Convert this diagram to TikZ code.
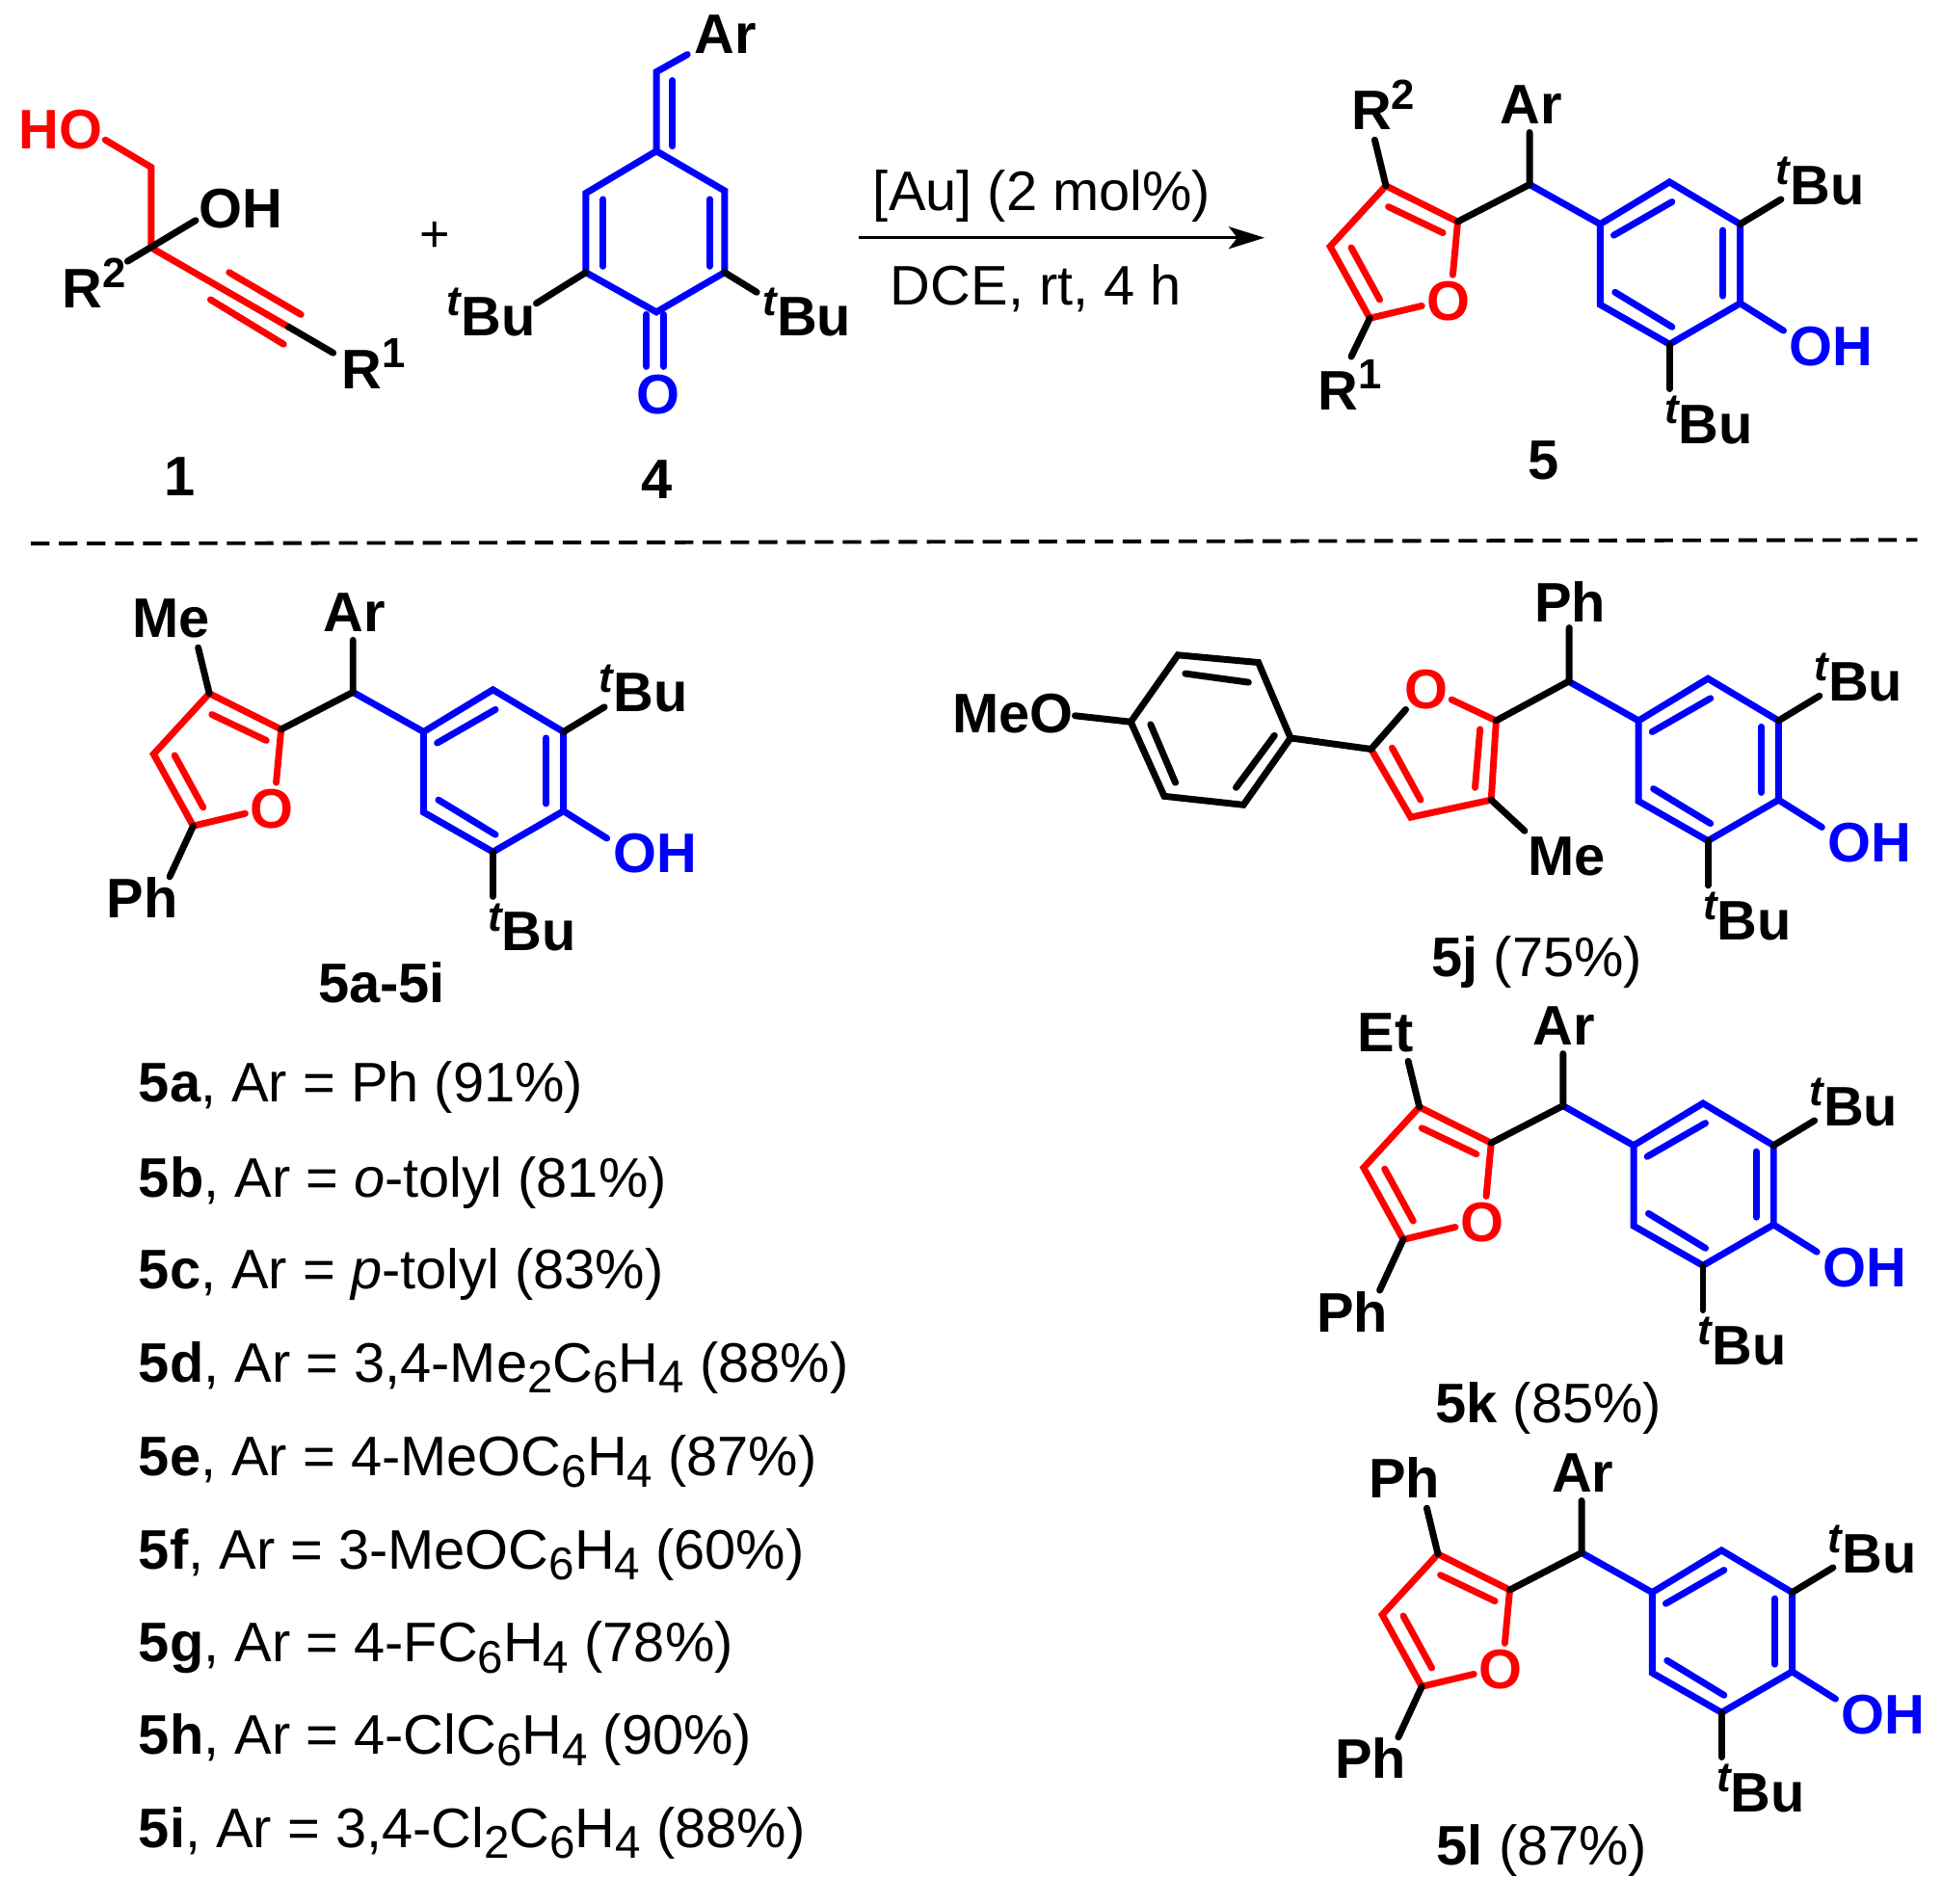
\documentclass[tikz,border=0pt]{standalone}
\usepackage{fontspec}
\setmainfont{Liberation Sans}
\usetikzlibrary{arrows.meta}
\definecolor{rd}{RGB}{255,0,0}
\definecolor{bl}{RGB}{0,0,255}
\newcommand\tBu{\raisebox{16pt}{\fontsize{34}{34}\selectfont\itshape t}Bu}
\newcommand\supr[1]{\raisebox{17pt}{\fontsize{34}{34}\selectfont #1}}
\newcommand\subs[1]{\raisebox{-9pt}{\fontsize{37}{37}\selectfont #1}}
\tikzset{
  bond/.style={line width=5.4pt,line cap=round,line join=miter},
  redb/.style={bond,rd},
  blueb/.style={bond,bl},
  blackb/.style={bond,black},
  lab/.style={anchor=base west,inner sep=0pt,outer sep=0pt,font=\bfseries\fontsize{45}{54}\selectfont},
  txt/.style={anchor=base west,inner sep=0pt,outer sep=0pt,font=\fontsize{45}{54}\selectfont},
  num/.style={anchor=base,inner sep=0pt,outer sep=0pt,font=\bfseries\fontsize{45}{54}\selectfont},
}
% phenol ring with tBu groups and OH, placed by template offsets
\newcommand\phenol[3]{%
\begin{scope}[shift={(#2,#3)},name prefix=#1-]
  \coordinate (r1) at (1292,181); \coordinate (r2) at (1348,147);
  \coordinate (r3) at (1405,181); \coordinate (r4) at (1405,245);
  \coordinate (r5) at (1348,278); \coordinate (r6) at (1292,246);
  \coordinate (ch) at (1235,149);
  \coordinate (bt) at (1438,161); \coordinate (bo) at (1440,267);
  \coordinate (bb) at (1348,314);
  \coordinate (i1a) at (1303,190); \coordinate (i1b) at (1350,163);
  \coordinate (i2a) at (1391,186); \coordinate (i2b) at (1391,239);
  \coordinate (i3a) at (1304,236); \coordinate (i3b) at (1350,264);
  \draw[blueb] (r1) -- (r2) -- (r3) -- (r4) -- (r5) -- (r6) -- cycle;
  \draw[blueb] (ch) -- (r1);
  \draw[blueb] (r4) -- (bo);
  \draw[blueb] (i1a) -- (i1b);
  \draw[blueb] (i2a) -- (i2b);
  \draw[blueb] (i3a) -- (i3b);
  \draw[blackb] (r3) -- (bt);
  \draw[blackb] (r5) -- (bb);
  \node[lab] (ltb) at (1434,165) {\tBu};
  \node[lab,bl] (loh) at (1445,295) {OH};
  \node[lab] (lbb) at (1344,358) {\tBu};
\end{scope}}
% furan-type product: name, dx, dy, R2 text, R2 x, R1 text, R1 x, R1 baseline, R1 bond end
\newcommand\furanmol[9]{%
\phenol{#1}{#2}{#3}%
\begin{scope}[shift={(#2,#3)},name prefix=#1-]
  \coordinate (f3) at (1119,150); \coordinate (f2) at (1177,179);
  \coordinate (f4) at (1074,199); \coordinate (f5) at (1106,257);
  \coordinate (fo2) at (1173,222); \coordinate (fo5) at (1148,247);
  \coordinate (ar) at (1235,107); \coordinate (br2) at (1110,113);
  \coordinate (br1) at #9;
  \coordinate (j1a) at (1121,167); \coordinate (j1b) at (1165,188);
  \coordinate (j2a) at (1091,200); \coordinate (j2b) at (1114,242);
  \draw[redb] (fo2) -- (f2) -- (f3) -- (f4) -- (f5) -- (fo5);
  \draw[redb] (j1a) -- (j1b);
  \draw[redb] (j2a) -- (j2b);
  \draw[blackb] (br2) -- (f3);
  \draw[blackb] (br1) -- (f5);
  \draw[blackb] (f2) -- (ch) -- (ar);
  \node[lab,rd] (lo) at (1152,259) {O};
  \node[lab] (lar) at (1211,100) {Ar};
  \node[lab] (lr2) at (#5,105) {#4};
  \node[lab] (lr1) at (#7,#8) {#6};
\end{scope}}
\begin{document}
\begin{tikzpicture}[x=1pt,y=-1pt]
\useasboundingbox (0,0) rectangle (1568,1537);
% --- compound 1
\coordinate (a1) at (85,113); \coordinate (a2) at (122,135); \coordinate (a3) at (122,200);
\coordinate (a4) at (158,178); \coordinate (a5) at (103,211); \coordinate (a6) at (233,264);
\coordinate (a7) at (269,285); \coordinate (a8) at (185,220); \coordinate (a9) at (243,254);
\coordinate (a10) at (170,242); \coordinate (a11) at (229,278);
\draw[redb] (a1) -- (a2) -- (a3) -- (a6);
\draw[redb] (a8) -- (a9);
\draw[redb] (a10) -- (a11);
\draw[blackb] (a5) -- (a4);
\draw[blackb] (a6) -- (a7);
\node[lab,rd] (ho) at (15,120) {HO};
\node[lab] (oh1) at (161,184) {OH};
\node[lab] (r21) at (50,249) {R\supr{2}};
\node[lab] (r11) at (276,314) {R\supr{1}};
\node[num] (n1) at (145,400) {1};
\node[txt,anchor=center,font=\fontsize{42}{50}\selectfont] (plus) at (351,191) {+};
% --- compound 4
\coordinate (b1) at (530,58); \coordinate (b0) at (555,44); \coordinate (b2) at (530,122);
\coordinate (b3) at (473,156); \coordinate (b4) at (473,220); \coordinate (b5) at (530,252);
\coordinate (b6) at (585,220); \coordinate (b7) at (585,154);
\coordinate (b8) at (543,65); \coordinate (b9) at (543,118);
\coordinate (b10) at (487,161); \coordinate (b11) at (487,215);
\coordinate (b12) at (573,161); \coordinate (b13) at (573,215);
\coordinate (b14) at (522,254); \coordinate (b15) at (522,296);
\coordinate (b16) at (536,254); \coordinate (b17) at (536,296);
\coordinate (b18) at (433,245); \coordinate (b19) at (611,236);
\draw[blueb] (b2) -- (b3) -- (b4) -- (b5) -- (b6) -- (b7) -- cycle;
\draw[blueb] (b0) -- (b1) -- (b2);
\draw[blueb] (b8) -- (b9);
\draw[blueb] (b10) -- (b11);
\draw[blueb] (b12) -- (b13);
\draw[blueb] (b14) -- (b15);
\draw[blueb] (b16) -- (b17);
\draw[blackb] (b4) -- (b18);
\draw[blackb] (b6) -- (b19);
\node[lab] (ar4) at (561,43) {Ar};
\node[lab,bl] (o4) at (514,334) {O};
\node[lab] (tb4a) at (361,271) {\tBu};
\node[lab] (tb4b) at (616,271) {\tBu};
\node[num] (n4) at (530,403) {4};
% --- arrow
\coordinate (arrL) at (693,192); \coordinate (arrR) at (1021,192);
\draw[line width=2pt,-{Stealth[length=29pt,width=18pt,inset=7pt]}] (arrL) -- (arrR);
\node[txt] (au) at (705,170) {[Au] (2 mol\%)};
\node[txt] (dce) at (719,246) {DCE, rt, 4 h};
% --- compound 5
\furanmol{m5}{0}{0}{R\supr{2}}{1091}{R\supr{1}}{1064}{331}{(1091,288)}
\node[num] (n5) at (1246,387) {5};
% --- dashed separator
\coordinate (dl) at (25,439); \coordinate (dr) at (1548,436);
\draw[line width=3pt,dash pattern=on 15pt off 7.6pt] (dl) -- (dr);
% --- 5a-5i
\furanmol{ma}{-950}{410}{Me}{1057}{Ph}{1036}{331}{(1087,298)}
\node[num,anchor=base west] (nai) at (257,810) {5a-5i};
% --- list
\node[txt] (l1) at (112,890) {\textbf{5a}, Ar = Ph (91\%)};
\node[txt] (l2) at (112,966.5) {\textbf{5b}, Ar = \textit{o}-tolyl (81\%)};
\node[txt] (l3) at (112,1041) {\textbf{5c}, Ar = \textit{p}-tolyl (83\%)};
\node[txt] (l4) at (112,1116) {\textbf{5d}, Ar = 3,4-Me\subs{2}C\subs{6}H\subs{4} (88\%)};
\node[txt] (l5) at (112,1192) {\textbf{5e}, Ar = 4-MeOC\subs{6}H\subs{4} (87\%)};
\node[txt] (l6) at (112,1267) {\textbf{5f}, Ar = 3-MeOC\subs{6}H\subs{4} (60\%)};
\node[txt] (l7) at (112,1342) {\textbf{5g}, Ar = 4-FC\subs{6}H\subs{4} (78\%)};
\node[txt] (l8) at (112,1417) {\textbf{5h}, Ar = 4-ClC\subs{6}H\subs{4} (90\%)};
\node[txt] (l9) at (112,1492) {\textbf{5i}, Ar = 3,4-Cl\subs{2}C\subs{6}H\subs{4} (88\%)};
% --- 5j
\phenol{mj}{31}{401}
\coordinate (jch) at (1267,550); \coordinate (jph) at (1267,507);
\coordinate (j2) at (1208,582); \coordinate (j3) at (1204,646); \coordinate (j4) at (1139,660);
\coordinate (j5) at (1107,605); \coordinate (jo2) at (1172,565); \coordinate (jo5) at (1135,573);
\coordinate (ji1) at (1195,589); \coordinate (ji2) at (1191,636);
\coordinate (ji3) at (1124,604); \coordinate (ji4) at (1147,646);
\coordinate (jme) at (1231,671);
\coordinate (p1) at (1042,596); \coordinate (p2) at (1016,535); \coordinate (p3) at (951,529);
\coordinate (p4) at (913,583); \coordinate (p5) at (940,643); \coordinate (p6) at (1004,650);
\coordinate (pi1) at (1008,551); \coordinate (pi2) at (957,544);
\coordinate (pi3) at (929,585); \coordinate (pi4) at (949,632);
\coordinate (pi5) at (998,636); \coordinate (pi6) at (1029,594);
\coordinate (pme) at (868,578);
\draw[redb] (jo2) -- (j2) -- (j3) -- (j4) -- (j5);
\draw[redb] (ji1) -- (ji2);
\draw[redb] (ji3) -- (ji4);
\draw[blackb] (j5) -- (jo5);
\draw[blackb] (j2) -- (jch) -- (jph);
\draw[blackb] (j3) -- (jme);
\draw[blackb] (j5) -- (p1);
\draw[blackb] (p1) -- (p2) -- (p3) -- (p4) -- (p5) -- (p6) -- cycle;
\draw[blackb] (pi1) -- (pi2);
\draw[blackb] (pi3) -- (pi4);
\draw[blackb] (pi5) -- (pi6);
\draw[blackb] (pme) -- (p4);
\node[lab,rd] (jo) at (1134,572) {O};
\node[lab] (jpht) at (1239,502) {Ph};
\node[lab] (jmet) at (1234,707) {Me};
\node[lab] (meo) at (769,592) {MeO};
\node[txt] (l5j) at (1156,789) {\textbf{5j} (75\%)};
% --- 5k
\furanmol{mk}{27}{744}{Et}{1069}{Ph}{1036}{332}{(1087,298)}
\node[txt] (l5k) at (1159,1149) {\textbf{5k} (85\%)};
% --- 5l
\furanmol{ml}{42}{1105}{Ph}{1063}{Ph}{1036}{331}{(1087,298)}
\node[txt] (l5l) at (1160,1506) {\textbf{5l} (87\%)};
\end{tikzpicture}
\end{document}
